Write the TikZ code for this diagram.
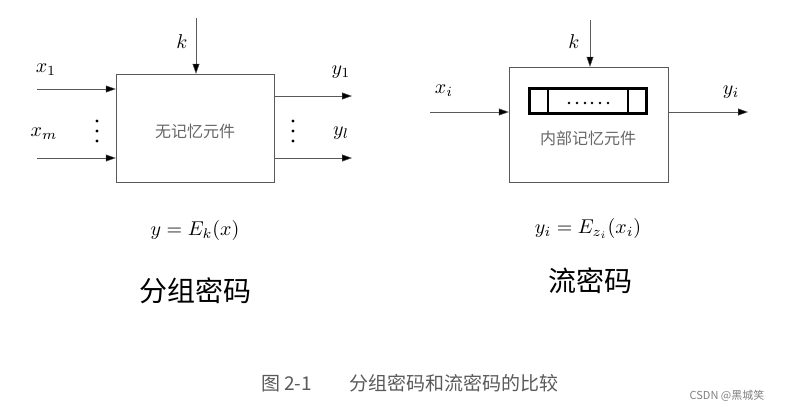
\documentclass[tikz,border=0pt]{standalone}
\usepackage{graphicx}
\usepackage{fontspec}
\newfontfamily\cjk{Noto Sans CJK SC}
\usetikzlibrary{arrows.meta,positioning}
\newcommand{\lb}[1]{\scalebox{2.0}{$#1$}}
\tikzstyle{line} = [draw, gray!70!black, -{Triangle[length=10pt,width=7pt,fill=black]}]
\tikzstyle{blk} = [draw, gray!70!black, inner sep=0pt]
\begin{document}
\begin{tikzpicture}
  [x=1pt,y=-1pt,every node/.style={text=black}]
  \useasboundingbox (0,0) rectangle (786,413);
  % block cipher
  \node (box1) [blk, minimum width=158pt, minimum height=108pt] at (195,128) {};
  \node [text=gray!80!black, font=\cjk\fontsize{16}{16}\selectfont] at (195,131) {无记忆元件};
  \coordinate (k1) at (196,18);
  \coordinate (x1) at (37,89);
  \coordinate (xm) at (37,158);
  \coordinate (y1) at (352,96);
  \coordinate (yl) at (352,158);
  \path [line] (k1) -- (k1 |- box1.north);
  \path [line] (x1) -- (x1 -| box1.west);
  \path [line] (xm) -- (xm -| box1.west);
  \path [line] (y1 -| box1.east) -- (y1);
  \path [line] (yl -| box1.east) -- (yl);
  \node at (182,42) {\lb{k}};
  \node at (46,70) {\lb{x_1}};
  \node at (44,134) {\lb{x_m}};
  \node at (341,72) {\lb{y_1}};
  \node at (341,133) {\lb{y_l}};
  \foreach \p in {97,293}
    \foreach \q in {121,131,141}
      \fill (\p,\q) circle (1.6pt);
  \node at (195,230) {\lb{y=E_k\!\left(x\right)}};
  \node [font=\cjk\fontsize{28}{28}\selectfont] at (195,291) {分组密码};

  % stream cipher
  \node (box2) [blk, minimum width=159pt, minimum height=115pt] at (588.5,124.5) {};
  \node (reg) [draw, line width=3pt, minimum width=117pt, minimum height=25pt, inner sep=0pt] at (588,101) {};
  \draw [line width=2pt] (548,88) -- (548,114) (628,88) -- (628,114);
  \foreach \q in {569,577,585,592,600,608}
    \fill (\q,103) circle (1.4pt);
  \node [text=gray!80!black, font=\cjk\fontsize{16}{16}\selectfont] at (588,138) {内部记忆元件};
  \coordinate (k2) at (590,20);
  \coordinate (xi) at (430,112);
  \coordinate (yi) at (748,112);
  \path [line] (k2) -- (k2 |- box2.north);
  \path [line] (xi) -- (xi -| box2.west);
  \path [line] (yi -| box2.east) -- (yi);
  \node at (574,42) {\lb{k}};
  \node at (444,91) {\lb{x_i}};
  \node at (731,92) {\lb{y_i}};
  \node at (588,228) {\lb{y_i=E_{z_i}\!\left(x_i\right)}};
  \node [font=\cjk\fontsize{28}{28}\selectfont] at (590,281) {流密码};

  % caption
  \node [text=gray!70!black, font=\cjk\fontsize{19}{19}\selectfont] at (410,383) {图\ 2-1\qquad 分组密码和流密码的比较};
  \node [text=gray, font=\cjk\fontsize{11}{11}\selectfont] at (727,396) {CSDN @黑城笑};
\end{tikzpicture}
\end{document}
